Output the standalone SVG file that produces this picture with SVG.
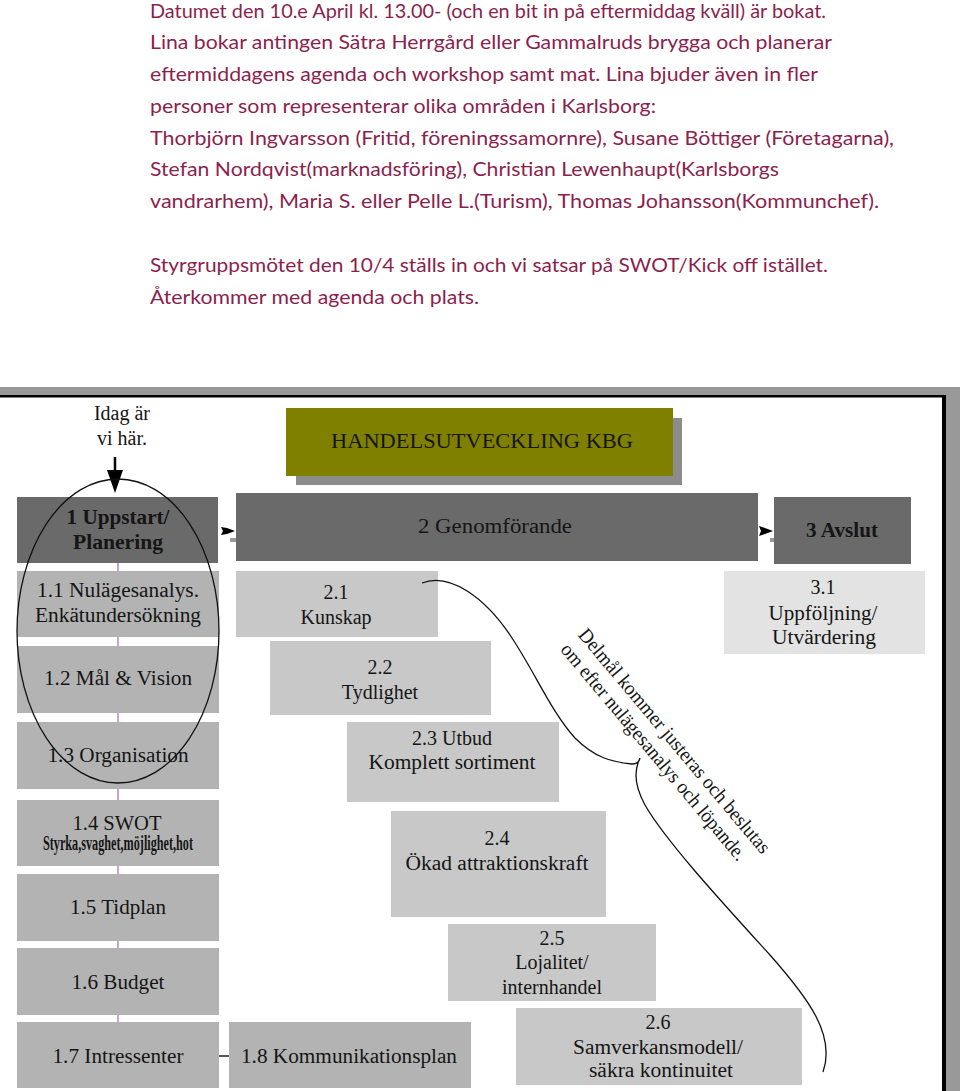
<svg xmlns="http://www.w3.org/2000/svg" width="960" height="1091" viewBox="0 0 960 1091">
<style>
.t{font-family:Lato,"Liberation Sans",sans-serif;font-size:19px;fill:#8b1f4e}
.s{font-family:"Liberation Serif",serif;font-size:20px;fill:#151515;text-anchor:middle}
.b{font-weight:bold}
.dk{fill:#6a6a6a}
.l1{fill:#b3b3b3}
.l2{fill:#c8c8c8}
.l3{fill:#e3e3e3}
</style>
<rect width="960" height="1091" fill="#fff"/>

<g id="intro-text">
<text class="t" x="150" y="18" textLength="676" lengthAdjust="spacingAndGlyphs">Datumet den 10.e April kl. 13.00- (och en bit in på eftermiddag kväll) är bokat.</text>
<text class="t" x="150" y="49" textLength="682" lengthAdjust="spacingAndGlyphs">Lina bokar antingen Sätra Herrgård eller Gammalruds brygga och planerar</text>
<text class="t" x="150" y="81" textLength="668" lengthAdjust="spacingAndGlyphs">eftermiddagens agenda och workshop samt mat. Lina bjuder även in fler</text>
<text class="t" x="150" y="113" textLength="506" lengthAdjust="spacingAndGlyphs">personer som representerar olika områden i Karlsborg:</text>
<text class="t" x="150" y="145" textLength="744" lengthAdjust="spacingAndGlyphs">Thorbjörn Ingvarsson (Fritid, föreningssamornre), Susane Böttiger (Företagarna),</text>
<text class="t" x="150" y="176" textLength="629" lengthAdjust="spacingAndGlyphs">Stefan Nordqvist(marknadsföring), Christian Lewenhaupt(Karlsborgs</text>
<text class="t" x="150" y="208" textLength="729" lengthAdjust="spacingAndGlyphs">vandrarhem), Maria S. eller Pelle L.(Turism), Thomas Johansson(Kommunchef).</text>
<text class="t" x="150" y="272" textLength="678" lengthAdjust="spacingAndGlyphs">Styrgruppsmötet den 10/4 ställs in och vi satsar på SWOT/Kick off istället.</text>
<text class="t" x="150" y="304" textLength="329" lengthAdjust="spacingAndGlyphs">Återkommer med agenda och plats.</text>
</g>

<g id="frame">
<rect x="0" y="387" width="960" height="8" fill="#999"/>
<rect x="944" y="387" width="16" height="704" fill="#999"/>
<rect x="0" y="395" width="946" height="2.5" fill="#000"/>
<rect x="942" y="395" width="4" height="696" fill="#000"/>
</g>

<g id="connectors">
<line x1="118" y1="563" x2="118" y2="1022" stroke="#b060c0" stroke-width="1.2"/>
<line x1="219" y1="1056" x2="229" y2="1056" stroke="#222" stroke-width="1.5"/>
<line x1="115" y1="457" x2="115" y2="472" stroke="#000" stroke-width="2.5"/>
<polygon points="107,470 123,470 115,493" fill="#000"/>
<polygon points="230,538 240,538 240,536 246,540 240,544 240,542 230,542" fill="#999"/>
<polygon points="221,527 227,528 235,531 227,534 221,535 223,531" fill="#000"/>
<polygon points="770,538 778,538 778,536 783,540 778,544 778,542 770,542" fill="#999"/>
<polygon points="759,526 765,528 773,531 765,534 759,536 761,531" fill="#000"/>
</g>

<g id="title">
<rect x="296" y="418" width="386" height="67" fill="#8c8c8c"/>
<rect x="286" y="408" width="387" height="68" fill="#808000"/>
<text class="s" x="482" y="448" font-size="19" textLength="302" lengthAdjust="spacingAndGlyphs">HANDELSUTVECKLING KBG</text>
</g>

<g id="n1">
<rect class="dk" x="17" y="497" width="201" height="66"/>
<text class="s b" x="118" y="524" textLength="103" lengthAdjust="spacingAndGlyphs">1 Uppstart/</text>
<text class="s b" x="118" y="549" textLength="90" lengthAdjust="spacingAndGlyphs">Planering</text>
</g>
<g id="n2">
<rect class="dk" x="236" y="493" width="522" height="68"/>
<text class="s" x="495" y="533" textLength="154" lengthAdjust="spacingAndGlyphs">2 Genomförande</text>
</g>
<g id="n3">
<rect class="dk" x="774" y="497" width="137" height="67"/>
<text class="s b" x="842" y="537" textLength="72" lengthAdjust="spacingAndGlyphs">3 Avslut</text>
</g>

<g id="n1-1"><rect class="l1" x="17" y="571" width="202" height="66"/>
<text class="s" x="118" y="597" textLength="162" lengthAdjust="spacingAndGlyphs">1.1 Nulägesanalys.</text>
<text class="s" x="118" y="622" textLength="166" lengthAdjust="spacingAndGlyphs">Enkätundersökning</text></g>
<g id="n1-2"><rect class="l1" x="17" y="646" width="202" height="67"/>
<text class="s" x="118" y="685" textLength="148" lengthAdjust="spacingAndGlyphs">1.2 Mål &amp; Vision</text></g>
<g id="n1-3"><rect class="l1" x="17" y="722" width="202" height="67"/>
<text class="s" x="118" y="762" textLength="141" lengthAdjust="spacingAndGlyphs">1.3 Organisation</text></g>
<g id="n1-4"><rect class="l1" x="17" y="800" width="202" height="66"/>
<text class="s" x="117" y="830" textLength="89" lengthAdjust="spacingAndGlyphs">1.4 SWOT</text>
<text class="s b" x="118" y="850" font-size="10" textLength="150" lengthAdjust="spacingAndGlyphs">Styrka,svaghet,möjlighet,hot</text></g>
<g id="n1-5"><rect class="l1" x="17" y="874" width="202" height="67"/>
<text class="s" x="118" y="914" textLength="96" lengthAdjust="spacingAndGlyphs">1.5 Tidplan</text></g>
<g id="n1-6"><rect class="l1" x="17" y="948" width="202" height="67"/>
<text class="s" x="118" y="989" textLength="93" lengthAdjust="spacingAndGlyphs">1.6 Budget</text></g>
<g id="n1-7"><rect class="l1" x="17" y="1022" width="202" height="66"/>
<text class="s" x="118" y="1063" textLength="131" lengthAdjust="spacingAndGlyphs">1.7 Intressenter</text></g>
<g id="n1-8"><rect class="l1" x="229" y="1022" width="242" height="66"/>
<text class="s" x="349" y="1063" textLength="216" lengthAdjust="spacingAndGlyphs">1.8 Kommunikationsplan</text></g>

<g id="n2-1"><rect class="l2" x="236" y="571" width="202" height="66"/>
<text class="s" x="336" y="599">2.1</text>
<text class="s" x="336" y="624">Kunskap</text></g>
<g id="n2-2"><rect class="l2" x="270" y="641" width="221" height="74"/>
<text class="s" x="380" y="674">2.2</text>
<text class="s" x="380" y="699">Tydlighet</text></g>
<g id="n2-3"><rect class="l2" x="347" y="722" width="212" height="80"/>
<text class="s" x="452" y="745">2.3 Utbud</text>
<text class="s" x="452" y="769" textLength="167" lengthAdjust="spacingAndGlyphs">Komplett sortiment</text></g>
<g id="n2-4"><rect class="l2" x="391" y="811" width="215" height="106"/>
<text class="s" x="497" y="845">2.4</text>
<text class="s" x="497" y="870" textLength="183" lengthAdjust="spacingAndGlyphs">Ökad attraktionskraft</text></g>
<g id="n2-5"><rect class="l2" x="448" y="924" width="208" height="77"/>
<text class="s" x="552" y="945">2.5</text>
<text class="s" x="552" y="969">Lojalitet/</text>
<text class="s" x="552" y="994">internhandel</text></g>
<g id="n2-6"><rect class="l2" x="516" y="1008" width="286" height="77"/>
<text class="s" x="658" y="1029">2.6</text>
<text class="s" x="658" y="1054" textLength="170" lengthAdjust="spacingAndGlyphs">Samverkansmodell/</text>
<text class="s" x="661" y="1077" textLength="144" lengthAdjust="spacingAndGlyphs">säkra kontinuitet</text></g>
<g id="n3-1"><rect class="l3" x="724" y="571" width="201" height="83"/>
<text class="s" x="823" y="594">3.1</text>
<text class="s" x="823" y="620" textLength="109" lengthAdjust="spacingAndGlyphs">Uppföljning/</text>
<text class="s" x="824" y="644" textLength="104" lengthAdjust="spacingAndGlyphs">Utvärdering</text></g>

<g id="annotations">
<text class="s" x="122" y="420">Idag är</text>
<text class="s" x="122" y="445">vi här.</text>
<ellipse cx="118" cy="631" rx="101" ry="152" fill="none" stroke="#111" stroke-width="1.3"/>
<path d="M422,583 C450,572 485,598 510,635 C535,672 550,710 575,738 C595,758 612,762 632,764 Q639,764 640,758 M640,758 Q630,778 645,805 C665,840 720,900 770,955 C808,998 836,1035 823,1072" fill="none" stroke="#111" stroke-width="1.3"/>
<g transform="translate(665,749) rotate(50)">
<text class="s" x="0" y="-6" font-size="18" textLength="287" lengthAdjust="spacingAndGlyphs">Delmål kommer justeras och beslutas</text>
<text class="s" x="-5" y="17" font-size="18" textLength="277" lengthAdjust="spacingAndGlyphs">om efter nulägesanalys och löpande.</text>
</g>
</g>
</svg>
